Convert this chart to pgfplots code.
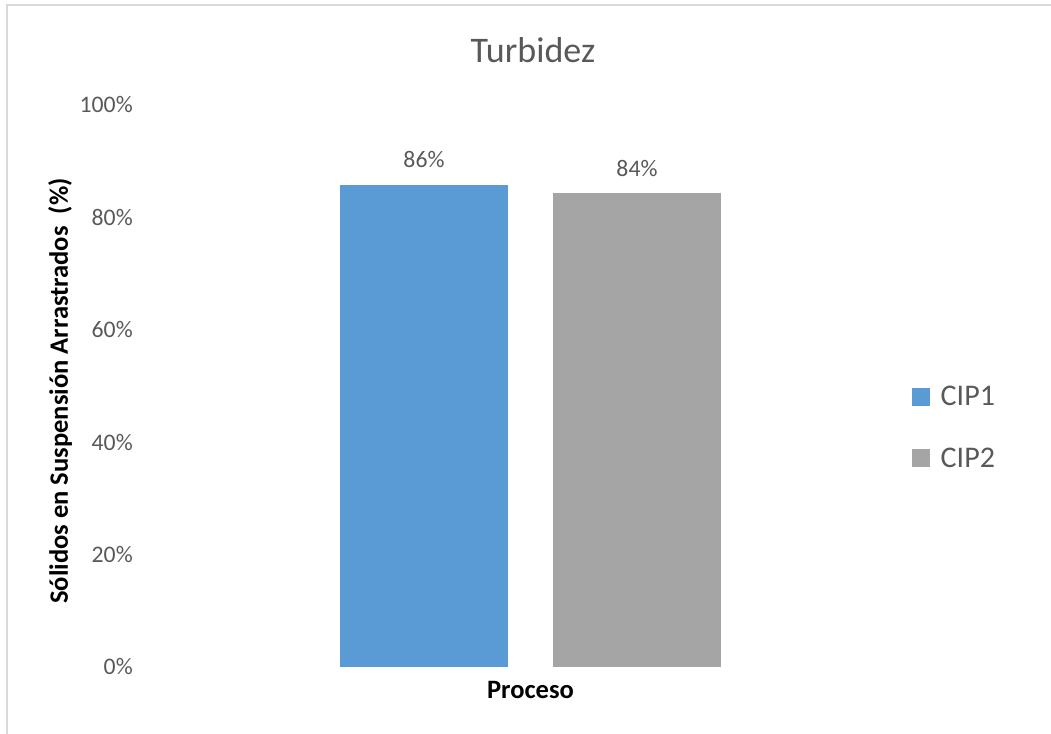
\documentclass[border=0pt]{standalone}
\usepackage{pgfplots}
\pgfplotsset{compat=1.18}
\usepackage{fontspec}
\setmainfont{Carlito}
\definecolor{cblue}{HTML}{5B9BD5}
\definecolor{cgray}{HTML}{A5A5A5}
\definecolor{txt}{HTML}{595959}
\definecolor{frame}{HTML}{D9D9D9}
\begin{document}
\begin{tikzpicture}
\path[use as bounding box] (0,0) rectangle (1051*0.75pt,-734*0.75pt);
\draw[frame,line width=1.5pt] (6.5*0.75pt,-734*0.75pt) -- (6.5*0.75pt,-5.5*0.75pt) -- (1051*0.75pt,-5.5*0.75pt);
\node[font=\fontsize{27}{32}\selectfont, text=txt] at (533*0.75pt,-50*0.75pt) {Turbidez};
\begin{axis}[
  at={(143*0.75pt,-667*0.75pt)}, anchor=south west,
  scale only axis, width=775*0.75pt, height=562*0.75pt,
  axis line style={draw=none},
  tick style={draw=none},
  xmin=-1, xmax=1, ymin=0, ymax=1,
  ybar=45*0.75pt, bar width=168*0.75pt,
  ytick={0,0.2,0.4,0.6,0.8,1},
  yticklabels={0\%,20\%,40\%,60\%,80\%,100\%},
  xtick=\empty,
  major tick length=0pt,
  yticklabel style={font=\fontsize{17.8}{20}\selectfont, text=txt, anchor=east, inner sep=0pt, xshift=-10*0.75pt},
  xlabel={\textbf{Proceso}},
  xlabel style={font=\fontsize{19.9}{23}\selectfont, at={(axis description cs:0.5,-0.041)}, anchor=center},
  ylabel={\textbf{Sólidos en Suspensión Arrastrados\ \ (\%)}},
  ylabel style={font=\fontsize{19.9}{23}\selectfont, at={(axis description cs:-0.107,0.491)}, anchor=center},
  point meta=explicit symbolic,
  nodes near coords,
  nodes near coords style={font=\fontsize{17.8}{20}\selectfont, text=txt, anchor=base, yshift=17*0.75pt, inner sep=0pt},
  legend style={at={(axis description cs:0.992,0.426)}, anchor=west, draw=none, fill=none,
    font=\fontsize{22.5}{26}\selectfont, text=txt, row sep=26pt, inner sep=0pt,
    /tikz/every odd column/.append style={column sep=6pt}},
  legend cell align=left,
  legend image code/.code={\fill[#1,draw=none] (0pt,-6.75pt) rectangle (13.5pt,6.75pt);},
]
\addplot[fill=cblue, draw=none] coordinates {(0,0.858) [86\%]};
\addplot[fill=cgray, draw=none] coordinates {(0,0.843) [84\%]};
\legend{CIP1,CIP2}
\end{axis}
\end{tikzpicture}
\end{document}
